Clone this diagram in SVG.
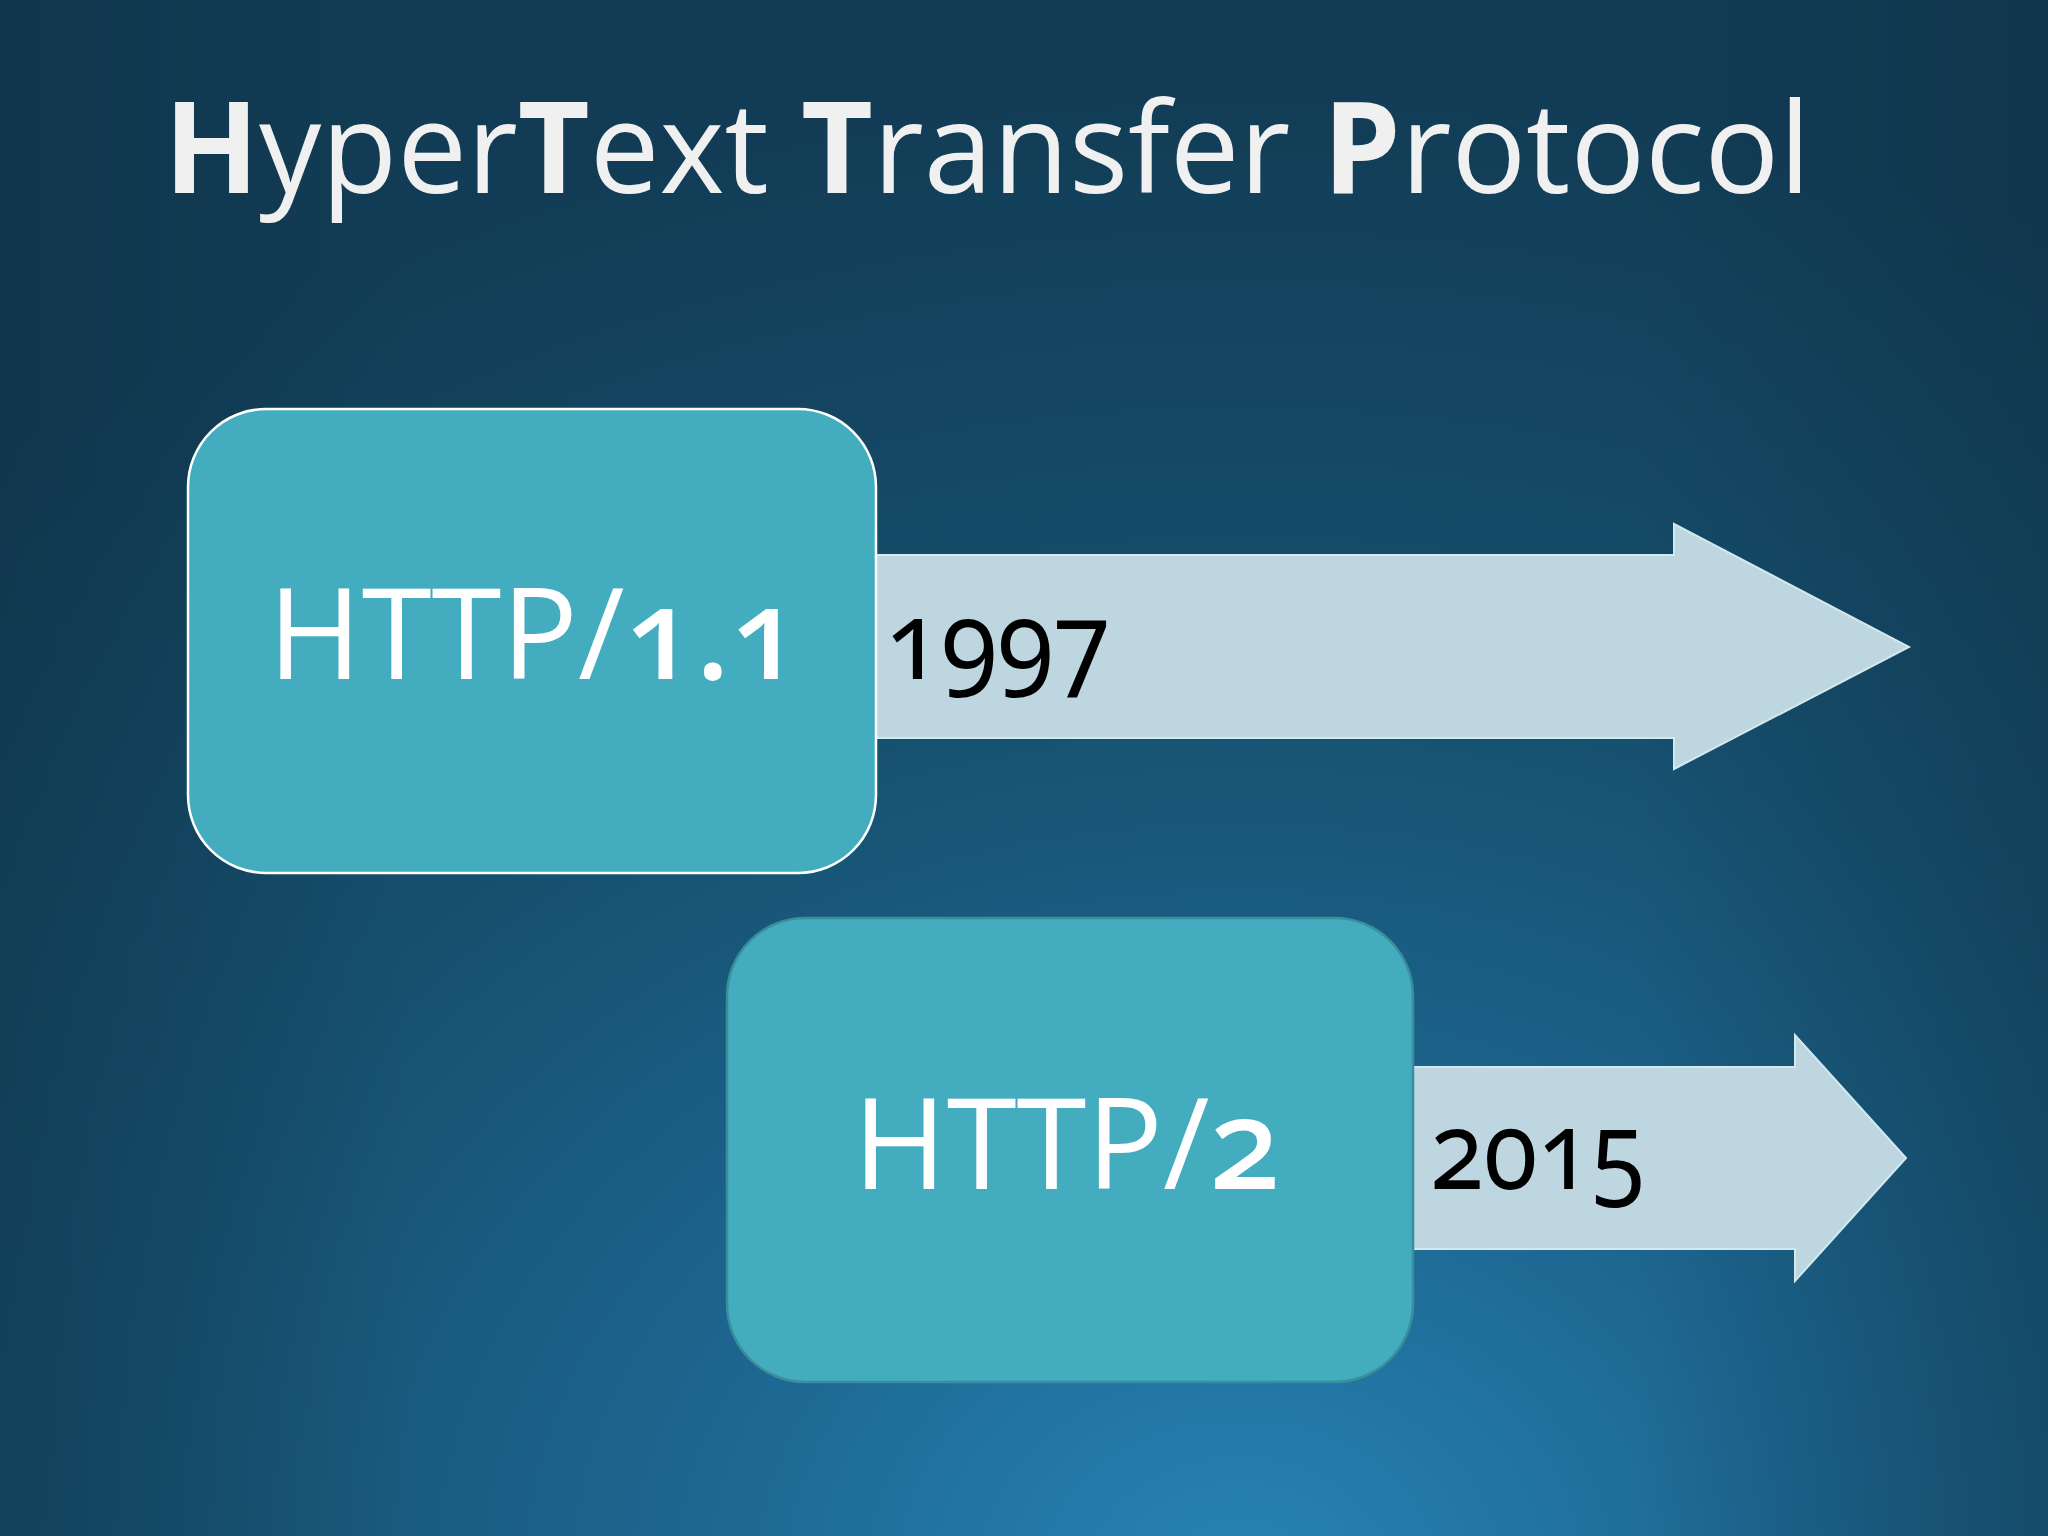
<svg xmlns="http://www.w3.org/2000/svg" width="2048" height="1536" viewBox="0 0 2048 1536">
  <defs>
    <radialGradient id="bg" cx="1240" cy="1580" r="1500" gradientUnits="userSpaceOnUse" gradientTransform="translate(1240 1580) scale(1.25 1) translate(-1240 -1580)">
      <stop offset="0" stop-color="#2784b4"/>
      <stop offset="0.3" stop-color="#1d6690"/>
      <stop offset="0.6" stop-color="#16506f"/>
      <stop offset="1" stop-color="#123c55"/>
    </radialGradient>
    <linearGradient id="vig" x1="0" y1="0" x2="1" y2="0">
      <stop offset="0" stop-color="#0c2c3e" stop-opacity="0.35"/>
      <stop offset="0.2" stop-color="#0c2c3e" stop-opacity="0"/>
      <stop offset="0.8" stop-color="#0c2c3e" stop-opacity="0"/>
      <stop offset="1" stop-color="#0c2c3e" stop-opacity="0.35"/>
    </linearGradient>
    <style>
      .title { font-family: "Open Sans", "Liberation Sans", sans-serif; font-size: 127px; fill: #f0f0f0; }
      .b { font-weight: 700; }
      .box1 { fill: #43adbf; stroke: #ffffff; stroke-width: 2.5; }
      .box2 { fill: #43adbf; stroke: #3a8e9b; stroke-width: 2.5; }
      .arrow { fill: #bed6df; stroke: #d2e9f0; stroke-width: 2; }
      .lbl { font-family: "Open Sans", "Liberation Sans", sans-serif; font-size: 127px; fill: #ffffff; }
      .num { font-family: "Noto Sans", "Open Sans", sans-serif; font-weight: 500; font-variant-numeric: oldstyle-nums; }
      .year { font-family: "Noto Sans", "Open Sans", sans-serif; font-size: 110px; fill: #000000; font-variant-numeric: oldstyle-nums; }
    </style>
  </defs>
  <rect width="2048" height="1536" fill="url(#bg)"/>
  <rect width="2048" height="1536" fill="url(#vig)"/>

  <g id="title" transform="translate(164 193) scale(0.978 1)">
    <text class="title" x="0" y="0"><tspan class="b">H</tspan>yper<tspan class="b">T</tspan>ext <tspan class="b">T</tspan>ransfer <tspan class="b">P</tspan>rotocol</text>
  </g>

  <g id="connectors">
    <polygon class="arrow" points="876,555 1674,555 1674,524 1909,647 1674,769 1674,738 876,738"/>
    <polygon class="arrow" points="1413,1067 1795,1067 1795,1035 1906,1158 1795,1281 1795,1249 1413,1249"/>
  </g>

  <g id="node-http11">
    <rect class="box1" x="188" y="409" width="688" height="464" rx="78" ry="78"/>
    <text class="lbl" x="268" y="679">HTTP/<tspan class="num">1.1</tspan></text>
  </g>
  <g id="year-1997">
    <text class="year" x="885" y="679" textLength="225" lengthAdjust="spacingAndGlyphs">1997</text>
  </g>

  <g id="node-http2">
    <rect class="box2" x="727" y="918" width="686" height="464" rx="78" ry="78"/>
    <text class="lbl" x="853" y="1189">HTTP/<tspan class="num">2</tspan></text>
  </g>
  <g id="year-2015">
    <text class="year" x="1430" y="1189" textLength="215" lengthAdjust="spacingAndGlyphs">2015</text>
  </g>
</svg>
